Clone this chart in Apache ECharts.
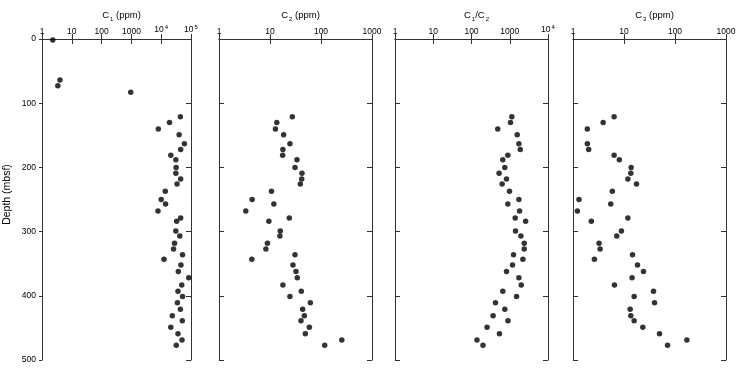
<!DOCTYPE html>
<html><head><meta charset="utf-8">
<script src="https://cdn.jsdelivr.net/npm/echarts@6/dist/echarts.min.js"></script>
<style>html,body{margin:0;padding:0;background:#fff}#c{width:738px;height:371px}</style>
</head><body><div id="c"></div>
<script>
// shallow C1-only samples
const depthShallow = [1.5, 64, 73, 83];
const c1Shallow = [2.3, 4.0, 3.4, 950];
// main samples depth (mbsf)
const depth = [121,130,140,149,163,172,181,188,200,209,218,226,237,250,257,268,279,284,299,307,318,327,336,343,352,362,372,383,393,401,411,421,431,439,449,459,469,477];
const c1 = [44000,19000,8000,40000,60000,45000,21000,31000,31600,31000,45000,34000,13700,10000,14000,7800,45000,33000,31000,42000,28000,26000,52000,12400,46000,37500,84000,49000,36600,52000,35000,44000,23600,51000,21000,36600,50000,32000];
const c2 = [27.4,13.6,12.8,18.5,24.6,17.9,17.7,33.8,30.9,42.4,41.8,39.3,10.7,4.46,11.9,3.35,23.9,9.5,15.9,15.6,8.9,8.3,30.9,4.4,28.2,32.3,34.3,17.9,41.1,24.6,61.8,43.7,47.1,40.5,59.1,49.3,256,118];
const c1c2 = [1135,1047,486,1566,1734,1880,891,658,743,527,822,632,985,1734,891,1804,1387,2595,1416,1955,2390,2390,1254,2207,1180,822,1734,1995,658,1504,423,743,367,898,255,538,139,200];
const c3 = [6.4,3.9,1.91,null,1.91,2.03,6.4,8.1,13.8,13.6,11.9,17.6,5.9,1.31,5.5,1.22,11.9,2.29,8.9,7.2,3.24,3.40,14.7,2.63,18.4,24.1,14.4,6.5,37.9,15.8,39.7,13.2,13.6,15.8,23.4,49.7,171,71.4];
const depthTicks = [0,100,200,300,400,500];
const titles = ['{n|C}{s|1}{n| (ppm)}','{n|C}{s|2}{n| (ppm)}','{n|C}{s|1}{n|/C}{s|2}','{n|C}{s|3}{n| (ppm)}'];
const xMax = [1e5, 1000, 1e4, 1000];

const F = 'Liberation Sans, Arial, sans-serif';
const AX = '#333';
const grids = [
  {left:42, top:39, width:149, height:321, outerBoundsMode:'none', containLabel:false},
  {left:219, top:39, width:153, height:321, outerBoundsMode:'none', containLabel:false},
  {left:395, top:39, width:153, height:321, outerBoundsMode:'none', containLabel:false},
  {left:573, top:39, width:153, height:321, outerBoundsMode:'none', containLabel:false}
];
function pairs(xs, ys){const o=[];for(let i=0;i<xs.length;i++){if(xs[i]!=null)o.push([xs[i],ys[i]]);}return o;}
const seriesData = [
  pairs(c1Shallow, depthShallow).concat(pairs(c1, depth)),
  pairs(c2, depth), pairs(c1c2, depth), pairs(c3, depth)
];
function fmt(v){
  const e = Math.round(Math.log10(v));
  if (e >= 4) return '{b|10}{p|' + e + '}';
  return String(Math.round(Math.pow(10,e)));
}
const xAxis=[], yAxis=[], series=[], title=[];
grids.forEach((g,i)=>{
  title.push({text: titles[i], left: g.left + g.width/2, top: 4, textAlign:'center',
    textStyle:{fontFamily:F, fontSize:9.5, fontWeight:'normal', color:'#000',
      rich:{n:{fontFamily:F,fontSize:9.5,color:'#000'}, s:{fontFamily:F,fontSize:6,color:'#000',padding:[7,0,0,1]}}}});
  xAxis.push({type:'log', logBase:10, min:1, max:xMax[i], gridIndex:i, position:'top',
    axisLine:{show:true, lineStyle:{color:AX,width:1}}, axisTick:{show:true, inside:true, length:5, lineStyle:{color:AX}},
    minorTick:{show:false}, splitLine:{show:false},
    axisLabel:{formatter:fmt, fontFamily:F, fontSize:8.5, color:'#000', margin:3,
      rich:{b:{fontFamily:F,fontSize:8.5,color:'#000'}, p:{fontFamily:F,fontSize:6,color:'#000',padding:[0,0,6,1]}}}});
  xAxis.push({type:'log', logBase:10, min:1, max:xMax[i], gridIndex:i, position:'bottom',
    axisLine:{show:true, lineStyle:{color:AX,width:1}}, axisTick:{show:true, inside:true, length:5, lineStyle:{color:AX}},
    minorTick:{show:false}, splitLine:{show:false}, axisLabel:{show:false}});
  yAxis.push({type:'value', inverse:true, min:0, max:500, interval:100, gridIndex:i, position:'left',
    name: i===0 ? 'Depth (mbsf)' : '', nameLocation:'middle', nameGap:29,
    nameTextStyle:{fontFamily:F, fontSize:10.5, color:'#000', padding:[0,0,0,10]},
    axisLine:{show:true, lineStyle:{color:AX,width:1}}, axisTick:{show:true, inside: i!==0, length: i===0?3:5, lineStyle:{color:AX}},
    splitLine:{show:false},
    axisLabel:{show: i===0, fontFamily:F, fontSize:8.5, color:'#000', margin:6,
      formatter: v => depthTicks.includes(v) ? String(v) : ''}});
  yAxis.push({type:'value', inverse:true, min:0, max:500, interval:100, gridIndex:i, position:'right',
    axisLine:{show:true, lineStyle:{color:AX,width:1}}, axisTick:{show:true, inside:true, length:5, lineStyle:{color:AX}},
    splitLine:{show:false}, axisLabel:{show:false}});
  series.push({type:'scatter', xAxisIndex:2*i, yAxisIndex:2*i, data:seriesData[i], symbol:'circle', symbolSize:5.5,
    itemStyle:{color:'#000'}, silent:true});
});
const chart = echarts.init(document.getElementById('c'), null, {renderer:'canvas'});
chart.setOption({animation:false, backgroundColor:'#fff', title, grid:grids, xAxis, yAxis, series});
</script></body></html>
